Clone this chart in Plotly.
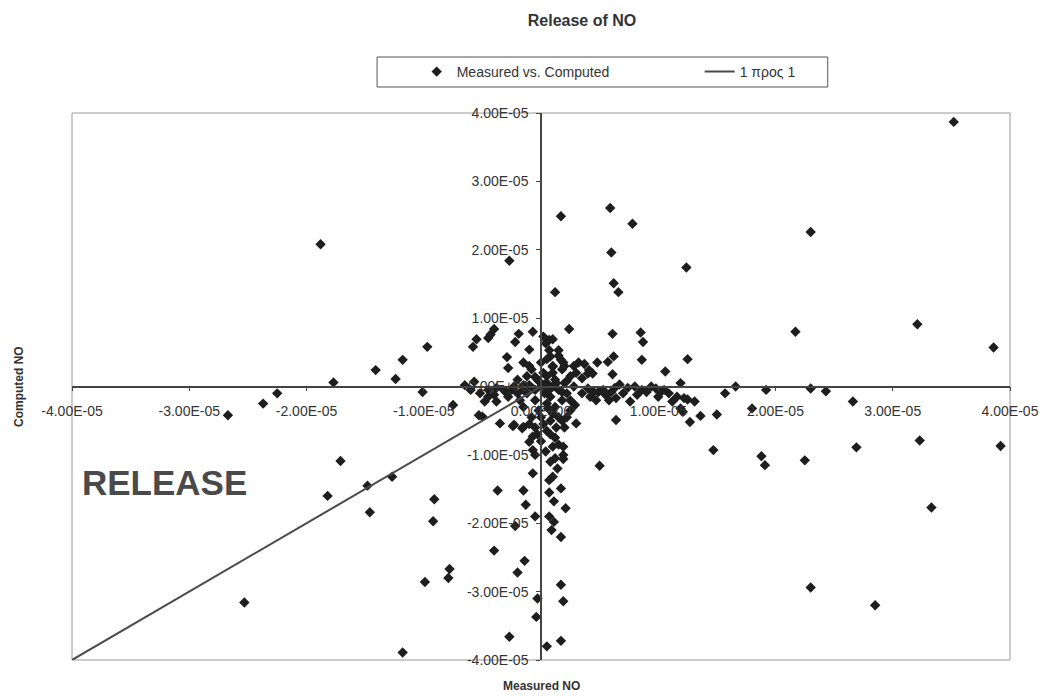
import numpy as np
import plotly.graph_objects as go

# Measured vs. computed NO release, values in units of 1e-5
measured_no_e5 = [
    -1.88, -0.97, -1.18, -1.41, -1.24, -1.77, -2.25, -1.01, -2.67, -2.37, -0.75,
    -1.71, -1.82, -1.48, -1.27, -1.46, -0.91, -0.92, -0.78, -0.79, -0.99, -2.53, -1.18,
    -0.37, -0.15, -0.13, -0.40, -0.14, -0.20, -0.05, -0.22, 0.07, 0.11, 0.09, 0.17,
    0.21, 0.11, 0.17, 0.07, 0.07, 0.10, 0.14, 0.08, -0.07, -0.05, -0.07, -0.10, -0.07,
    0.19, 0.19, 0.19, 0.10, 0.17, 0.19, -0.04, -0.03, -0.27, 0.05, 0.17, 0.50, 0.30, 0.29,
    1.47, 0.64, 1.57, 1.50, 1.36, 1.27, 1.21, 1.31, 1.25, 0.76, 0.64, 1.09, 1.16, 1.22,
    1.12, 1.19, 1.66, 1.19, 1.02, 0.94, 0.98, 0.40, 0.45, 0.49, 0.53, 0.63, 0.67, 0.74,
    0.80, 0.86, 1.92, 1.80, 2.30, 2.43, 2.66, 1.88, 1.91, 2.25, 2.69, 3.23, 3.92, 3.33,
    2.30, 2.85,
    3.52, 2.30, 2.17, 3.21, 3.86, 0.17, 0.59, 0.78, -0.27, 0.60, 1.24, 0.62, 0.66, 0.12,
    0.24, 0.61, 0.85, 0.87, 0.86, 1.25, 1.06, 0.61, 0.48, 0.57, 0.62, 0.40,
    -0.58, -0.55, -0.45, -0.43, -0.40, -0.19, -0.22, -0.07, -0.10, -0.29, -0.28, -0.05,
    0.02, 0.04, 0.07, 0.15, 0.17, 0.10, 0.19, 0.08, 0.07, 0.10,
    0.28, 0.32, 0.37, 0.41, 0.44, 0.30, 0.35,
    -0.57, -0.48, -0.45, -0.50, -0.53, -0.35, -0.24, -0.16, -0.38, -0.38, -0.32, -0.23,
    -0.15, -0.45, -0.30, -0.23, -0.15,
    0.00, 0.05, -0.05, 0.10, -0.10, 0.03, 0.08, -0.03, 0.12, 0.15, -0.12, 0.20, 0.02,
    -0.08, 0.10, 0.05, -0.02, 0.12, 0.18, 0.22, -0.18, -0.20, 0.25, 0.00, 0.08, 0.15,
    -0.08, 0.20, 0.05, -0.05, 0.12, 0.00, 0.15, 0.05, -0.15, 0.25, 0.28, -0.25, 0.18, -0.12,
    0.35, 0.42, 0.55, 0.60, 0.70, 0.82, 0.90, 1.00, 1.05, 0.58, 0.47,
    0.10, 0.02, 0.13, 0.18, -0.03, 0.08, 0.15, 0.04, 0.12, -0.10, 0.22, 0.06, -0.05,
    0.03, -0.02, 0.07, 0.13, -0.07, 0.18, 0.22, -0.15, 0.05, 0.10, -0.10, 0.00, 0.20,
    -0.20, 0.25, -0.15,
    -0.60, -0.65, -0.52, -0.40, -0.28,
]
computed_no_e5 = [
    2.08, 0.58, 0.39, 0.24, 0.11, 0.06, -0.10, -0.08, -0.42, -0.25, -0.27,
    -1.09, -1.60, -1.45, -1.32, -1.84, -1.65, -1.97, -2.67, -2.80, -2.86, -3.16, -3.89,
    -1.52, -1.52, -1.73, -2.40, -2.55, -2.72, -1.90, -2.04, -1.90, -1.98, -2.10, -2.20,
    -1.78, -1.68, -1.49, -1.55, -1.37, -1.32, -1.20, -1.10, -1.27, -1.00, -0.93, -0.81, -0.73,
    -0.88, -1.00, -1.06, -0.88, -2.90, -3.14, -3.37, -3.10, -3.66, -3.80, -3.72, -1.16, -0.54, -0.27,
    -0.93, -0.49, -0.10, -0.41, -0.43, -0.52, -0.37, -0.22, -0.19, -0.22, -0.17, -0.10, -0.15, -0.17,
    -0.22, -0.32, 0.00, 0.05, -0.08, 0.00, -0.03, -0.03, -0.08, -0.08, -0.05, -0.02, 0.03, -0.02,
    0.00, -0.05, -0.05, -0.32, -0.03, -0.07, -0.22, -1.02, -1.15, -1.08, -0.89, -0.79, -0.87, -1.77,
    -2.94, -3.20,
    3.87, 2.26, 0.80, 0.91, 0.57, 2.49, 2.61, 2.38, 1.84, 1.96, 1.74, 1.51, 1.38, 1.38,
    0.84, 0.77, 0.79, 0.65, 0.39, 0.40, 0.22, 0.18, 0.35, 0.36, 0.44, 0.19,
    0.58, 0.69, 0.71, 0.76, 0.84, 0.77, 0.65, 0.80, 0.54, 0.43, 0.27, 0.14,
    0.73, 0.63, 0.53, 0.53, 0.39, 0.29, 0.35, 0.44, 0.68, 0.69,
    0.30, 0.35, 0.33, 0.24, 0.19, 0.20, 0.12,
    0.07, -0.22, -0.15, -0.44, -0.42, -0.54, -0.58, -0.61, -0.22, -0.02, -0.05, -0.56,
    -0.59, -0.05, -0.08, 0.00, 0.02,
    0.00, 0.05, -0.05, 0.00, 0.02, -0.10, -0.15, 0.10, 0.10, -0.05, -0.10, 0.05, 0.20,
    0.25, 0.30, -0.25, -0.35, -0.30, -0.20, -0.10, -0.20, 0.10, 0.15, -0.45, -0.50, -0.45,
    -0.45, -0.60, -0.65, -0.60, -0.75, -0.80, 0.45, 0.40, 0.35, -0.35, 0.00, -0.05, 0.25, 0.15,
    -0.10, -0.15, -0.12, -0.08, -0.10, -0.12, -0.08, -0.15, -0.05, -0.20, -0.20,
    -0.40, -0.55, -0.60, -0.50, -0.70, -0.70, -0.85, -0.95, -1.05, -0.55, -0.45, -0.32, -0.20,
    0.03, 0.08, -0.05, 0.05, -0.03, -0.08, 0.08, -0.05, 0.15, 0.20, 0.30, 0.35, 0.30,
    -0.10, -0.20, -0.30,
    -0.05, 0.02, -0.10, -0.12, -0.15,
]

# One-to-one reference segment
ref_line_e5 = [-4.0, 0.0]

tick_vals_e5 = [-4, -3, -2, -1, 0, 1, 2, 3, 4]
tick_text = ["-4.00E-05", "-3.00E-05", "-2.00E-05", "-1.00E-05", "0.00E+00",
             "1.00E-05", "2.00E-05", "3.00E-05", "4.00E-05"]

scale = 1e-5
mx = np.array(measured_no_e5) * scale
cy = np.array(computed_no_e5) * scale
ref = np.array(ref_line_e5) * scale
ticks = [v * scale for v in tick_vals_e5]

FONT = "Arial, Liberation Sans, sans-serif"
TXT = "#333333"
AXIS = "#444444"

fig = go.Figure()
fig.add_trace(go.Scatter(
    x=mx, y=cy, mode="markers", name="Measured vs. Computed",
    marker=dict(symbol="diamond", size=8, color="#1e1e1e", line=dict(width=0)),
))
fig.add_trace(go.Scatter(
    x=ref, y=ref, mode="lines", name="1 προς 1",
    line=dict(color="#4a4a4a", width=2),
))

axis_common = dict(
    range=[-4e-5, 4e-5], tickvals=ticks, ticktext=tick_text,
    showgrid=False, zeroline=False, showline=True, linecolor=AXIS, linewidth=1.5,
    ticks="outside", ticklen=4, tickcolor=AXIS, tickwidth=1,
    tickfont=dict(family=FONT, size=14, color=TXT),
    anchor="free", position=0.5, fixedrange=True,
)

fig.update_layout(
    width=1051, height=696,
    margin=dict(l=72, r=32, t=113, b=36),
    paper_bgcolor="white", plot_bgcolor="white",
    font=dict(family=FONT, color=TXT),
    title=dict(text="<b>Release of NO</b>", x=582 / 1051, xref="container", xanchor="center",
               y=1 - 20 / 696, yref="container", yanchor="middle",
               font=dict(family=FONT, size=16, color=TXT)),
    xaxis=dict(axis_common, ticklabelstandoff=8),
    yaxis=dict(axis_common, ticklabelstandoff=5),
    showlegend=True,
    legend=dict(orientation="h", x=(420 - 72) / 947, xanchor="left",
                y=(660 - 72) / 547, yanchor="middle",
                bgcolor="rgba(0,0,0,0)", borderwidth=0,
                entrywidth=238, entrywidthmode="pixels",
                font=dict(family=FONT, size=14, color=TXT)),
    shapes=[
        dict(type="rect", xref="paper", yref="paper", x0=0, x1=1, y0=0, y1=1,
             line=dict(color="#9a9a9a", width=1), layer="below"),
        dict(type="rect", xref="paper", yref="paper",
             x0=(380 - 72) / 947, x1=(835 - 72) / 947,
             y0=(660 - 87) / 547, y1=(660 - 57) / 547,
             line=dict(color="#555555", width=1)),
    ],
    annotations=[
        dict(text="<b>RELEASE</b>", xref="x", yref="y", x=-3.93e-5, y=-1.41e-5,
             xanchor="left", yanchor="middle", showarrow=False,
             font=dict(family=FONT, size=35, color="#4a4a4a")),
        dict(text="<b>Measured NO</b>", xref="paper", yref="paper",
             x=0.5, y=(660 - 686) / 547, xanchor="center", yanchor="middle",
             showarrow=False, font=dict(family=FONT, size=12, color=TXT)),
        dict(text="<b>Computed NO</b>", xref="paper", yref="paper",
             x=(18 - 72) / 947, y=0.5, xanchor="center", yanchor="middle",
             textangle=-90, showarrow=False, font=dict(family=FONT, size=12, color=TXT)),
    ],
)

fig.write_html("out.html")
